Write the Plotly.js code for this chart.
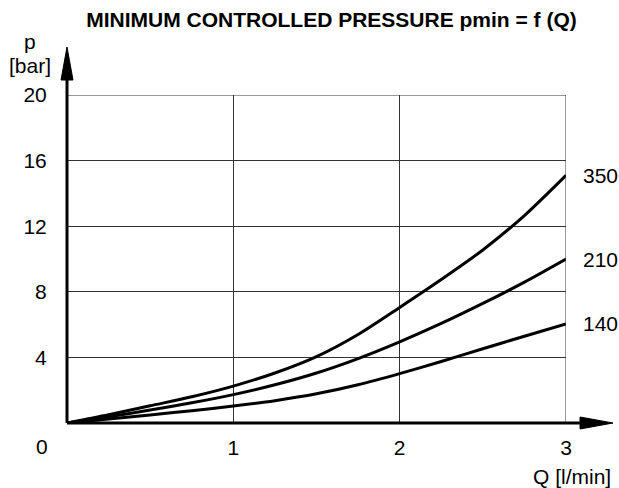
<!DOCTYPE html>
<html>
<head>
<meta charset="utf-8">
<script src="https://cdn.plot.ly/plotly-3.0.1.min.js"></script>
<style>html,body{margin:0;padding:0;background:#fff}#chart{width:619px;height:488px}</style>
</head>
<body>
<div id="chart"></div>
<script>
const Q = [0, 0.25, 0.5, 0.75, 1, 1.25, 1.5, 1.75, 2, 2.25, 2.5, 2.75, 3];
const p350 = [0, 0.5, 1.05, 1.6, 2.25, 3.05, 4.05, 5.4, 7.05, 8.75, 10.55, 12.65, 15.1];
const p210 = [0, 0.38, 0.79, 1.23, 1.73, 2.33, 3.05, 3.93, 4.95, 6.07, 7.29, 8.59, 10.0];
const p140 = [0, 0.24, 0.49, 0.75, 1.03, 1.36, 1.78, 2.33, 3.01, 3.75, 4.53, 5.29, 6.04];
const seriesNames = ['350', '210', '140'];
const seriesValues = [p350, p210, p140];
const xTicks = [1, 2, 3];
const yTicks = [4, 8, 12, 16, 20];

const FONT = 'Liberation Sans, Arial, sans-serif';
const FS = 21;
const traces = seriesValues.map((v, i) => ({
  x: Q, y: v, type: 'scatter', mode: 'lines', name: seriesNames[i],
  line: {color: '#000', width: 3, shape: 'spline', smoothing: 0.8},
  hoverinfo: 'skip', cliponaxis: false
}));

const annotations = seriesValues.map((v, i) => ({
  x: Q[Q.length - 1], y: v[v.length - 1], xref: 'x', yref: 'y',
  text: seriesNames[i], showarrow: false, xanchor: 'left', yanchor: 'middle', xshift: 15, yshift: 0,
  font: {family: FONT, size: FS, color: '#000'}
}));
annotations.push(
  {x: 0, y: 0, xref: 'paper', yref: 'paper', text: '0', showarrow: false, xanchor: 'right', yanchor: 'middle', xshift: -17, yshift: -23, font: {family: FONT, size: FS, color: '#000'}},
  {x: 0, y: 1, xref: 'paper', yref: 'paper', text: 'p', showarrow: false, xanchor: 'center', yanchor: 'middle', xshift: -37, yshift: 54, font: {family: FONT, size: FS, color: '#000'}},
  {x: 0, y: 1, xref: 'paper', yref: 'paper', text: '[bar]', showarrow: false, xanchor: 'center', yanchor: 'middle', xshift: -37, yshift: 30, font: {family: FONT, size: FS, color: '#000'}},
  {x: 1, y: 0, xref: 'paper', yref: 'paper', text: 'Q [l/min]', showarrow: false, xanchor: 'right', yanchor: 'middle', xshift: 47, yshift: -53, font: {family: FONT, size: FS, color: '#000'}}
);

// plot area: 499 x 328 px
const pw = 499, ph = 328;
const GRID = '#333';
const shapes = [
  // boundary grid lines at Q=3 and p=20
  {type: 'line', xref: 'x', yref: 'y', x0: xTicks[xTicks.length-1], x1: xTicks[xTicks.length-1], y0: 0, y1: yTicks[yTicks.length-1], line: {color: GRID, width: 1}},
  {type: 'line', xref: 'x', yref: 'y', x0: 0, x1: xTicks[xTicks.length-1], y0: yTicks[yTicks.length-1], y1: yTicks[yTicks.length-1], line: {color: GRID, width: 1}},
  // y axis line + arrow
  {type: 'line', xref: 'paper', yref: 'paper', x0: 0, x1: 0, y0: 0, y1: 1 + 20/ph, line: {color: '#000', width: 3}},
  {type: 'path', xref: 'paper', yref: 'paper', path: `M ${-6/pw} ${1+15/ph} L ${6/pw} ${1+15/ph} L 0 ${1+48/ph} Z`, fillcolor: '#000', line: {color: '#000', width: 1}},
  // x axis line + arrow
  {type: 'line', xref: 'paper', yref: 'paper', x0: 0, x1: 1 + 20/pw, y0: 0, y1: 0, line: {color: '#000', width: 3}},
  {type: 'path', xref: 'paper', yref: 'paper', path: `M ${1+14/pw} ${-6/ph} L ${1+14/pw} ${6/ph} L ${1+47/pw} 0 Z`, fillcolor: '#000', line: {color: '#000', width: 1}}
];

const layout = {
  width: 619, height: 488,
  margin: {l: 67, r: 53, t: 95, b: 65},
  paper_bgcolor: '#fff', plot_bgcolor: '#fff',
  showlegend: false,
  title: {text: '<b>MINIMUM CONTROLLED PRESSURE pmin = f (Q)</b>', x: 0.5355, xanchor: 'center', y: 0.959, yanchor: 'middle', font: {family: FONT, size: FS, color: '#000'}},
  xaxis: {range: [0, 3], tickvals: xTicks, ticktext: xTicks.map(String), showgrid: true, gridcolor: GRID, gridwidth: 1,
    zeroline: false, showline: false, ticks: 'outside', ticklen: 6, tickcolor: 'rgba(0,0,0,0)', fixedrange: true,
    tickfont: {family: FONT, size: FS, color: '#000'}},
  yaxis: {range: [0, 20], tickvals: yTicks, ticktext: yTicks.map(String), showgrid: true, gridcolor: GRID, gridwidth: 1,
    zeroline: false, showline: false, ticks: 'outside', ticklen: 15, tickcolor: 'rgba(0,0,0,0)', fixedrange: true,
    tickfont: {family: FONT, size: FS, color: '#000'}},
  annotations: annotations,
  shapes: shapes
};

Plotly.newPlot('chart', traces, layout, {displayModeBar: false, staticPlot: true});
</script>
</body>
</html>
